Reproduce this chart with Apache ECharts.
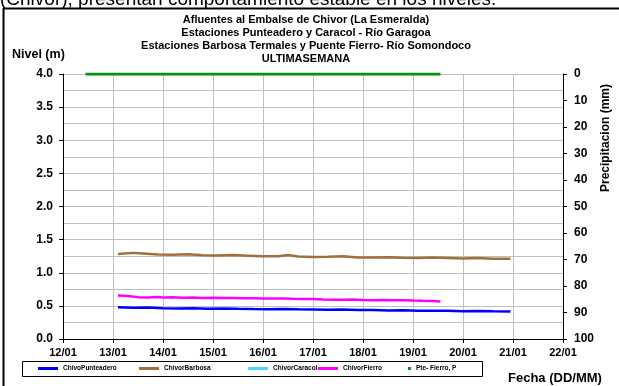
<!DOCTYPE html>
<html>
<head>
<meta charset="utf-8">
<script src="https://cdn.jsdelivr.net/npm/echarts@6/dist/echarts.min.js"></script>
<style>
html,body{margin:0;padding:0;background:#fff;}
#c{width:619px;height:386px;}
</style>
</head>
<body>
<div id="c"></div>
<script>
// ---- data (days of January) ----
const xTicks = [12, 13, 14, 15, 16, 17, 18, 19, 20, 21, 22];

const punteaderoT = [13.1,13.4,13.7,14.0,14.3,14.6,14.9,15.2,15.5,15.8,16.1,16.4,16.7,17.0,17.3,17.6,17.9,18.2,18.5,18.8,19.1,19.4,19.7,20.0,20.3,20.6,20.95];
const punteaderoV = [0.478,0.472,0.474,0.466,0.462,0.464,0.458,0.460,0.455,0.452,0.450,0.452,0.448,0.446,0.440,0.444,0.438,0.436,0.432,0.434,0.428,0.425,0.426,0.420,0.423,0.418,0.414];

const barbosaT = [13.1,13.4,13.6,13.9,14.2,14.5,14.8,15.1,15.4,15.7,16.0,16.3,16.5,16.7,17.0,17.3,17.6,17.9,18.2,18.5,18.8,19.1,19.4,19.7,20.0,20.3,20.6,20.95];
const barbosaV = [1.282,1.300,1.290,1.275,1.272,1.278,1.266,1.262,1.268,1.258,1.248,1.250,1.268,1.245,1.236,1.240,1.248,1.232,1.230,1.235,1.226,1.222,1.230,1.222,1.214,1.224,1.213,1.212];

const caracolT = [];
const caracolV = [];

const fierroT = [13.1,13.3,13.5,13.7,13.9,14.0,14.2,14.4,14.6,14.8,15.0,15.2,15.4,15.6,15.8,16.0,16.2,16.4,16.6,16.8,17.0,17.2,17.4,17.6,17.8,18.0,18.2,18.4,18.6,18.8,19.0,19.2,19.4,19.55];
const fierroV = [0.655,0.648,0.632,0.628,0.634,0.628,0.630,0.624,0.626,0.620,0.622,0.618,0.620,0.615,0.616,0.612,0.610,0.612,0.606,0.604,0.603,0.598,0.594,0.592,0.595,0.588,0.586,0.588,0.584,0.585,0.580,0.577,0.575,0.567];

const precipT = [12.45,13.0,13.7,14.0,15.0,16.0,17.0,18.0,19.0,19.55];
const precipV = [0,0,0,0,0,0,0,0,0,0];

const titleLines = [
  'Afluentes al Embalse de Chivor (La Esmeralda)',
  'Estaciones Punteadero y Caracol - Río Garagoa',
  'Estaciones Barbosa Termales y Puente Fierro- Río Somondoco',
  'ULTIMASEMANA'
];
const seriesNames = ['ChivoPunteadero','ChivorBarbosa','ChivorCaracol','ChivorFierro','Pte- Fierro, P'];

function zip(t, v){ return t.map((x,i)=>[x, v[i]]); }

const FONT = 'Liberation Sans, Arial, sans-serif';
const chart = echarts.init(document.getElementById('c'), null, {renderer:'canvas'});

const legendBase = {
  orient:'horizontal', top: 365, padding: 0, itemGap: 0,
  itemWidth: 20, itemHeight: 3, icon: 'rect', selectedMode: false,
  textStyle: {fontFamily: FONT, fontSize: 6.5, fontWeight: 'bold', color: '#000'}
};
const legendLefts = [38, 139, 248, 318, 408];

const option = {
  backgroundColor: '#fff',
  animation: false,
  title: {
    text: titleLines.join('\n'),
    left: 301, top: 8, textAlign: 'center',
    textStyle: {fontFamily: FONT, fontSize: 11, fontWeight: 'bold', color: '#000', lineHeight: 13}
  },
  legend: seriesNames.map((n,i)=>Object.assign({}, legendBase, {
    data: [n], left: legendLefts[i],
    itemWidth: i === 4 ? 3 : 20, itemHeight: 3
  })),
  grid: {left: 63, right: 56, top: 74, bottom: 47},
  xAxis: {
    type: 'value', min: 12, max: 22, interval: 1,
    axisLine: {show: true, lineStyle: {color: '#000', width: 1}},
    axisTick: {show: true, length: 4, lineStyle: {color: '#000'}},
    axisLabel: {
      margin: 8, fontFamily: FONT, fontSize: 11, fontWeight: 'bold', color: '#000',
      formatter: v => String(v).padStart(2,'0') + '/01'
    },
    splitLine: {show: true, lineStyle: {color: '#c0c0c0', width: 1}}
  },
  yAxis: [
    {
      type: 'value', min: 0, max: 4, interval: 0.5, position: 'left',
      axisLine: {show: true, lineStyle: {color: '#000', width: 1}},
      axisTick: {show: true, length: 4, lineStyle: {color: '#000'}},
      axisLabel: {margin: 10, fontFamily: FONT, fontSize: 12, fontWeight: 'bold', color: '#000',
        formatter: v => v.toFixed(1)},
      splitLine: {show: true, lineStyle: {color: '#c0c0c0', width: 1}},
      minorTick: {show: false, splitNumber: 2},
      minorSplitLine: {show: true, lineStyle: {color: '#c0c0c0', width: 1}}
    },
    {
      type: 'value', min: 0, max: 100, interval: 10, position: 'right', inverse: true,
      axisLine: {show: true, lineStyle: {color: '#000', width: 1}},
      axisTick: {show: true, length: 4, lineStyle: {color: '#000'}},
      axisLabel: {margin: 11, fontFamily: FONT, fontSize: 12, fontWeight: 'bold', color: '#000'},
      splitLine: {show: false}
    }
  ],
  series: [
    {name: seriesNames[0], type: 'line', yAxisIndex: 0, data: zip(punteaderoT, punteaderoV),
      showSymbol: false, color: '#0000ff', lineStyle: {width: 2.5, color: '#0000ff'}},
    {name: seriesNames[1], type: 'line', yAxisIndex: 0, data: zip(barbosaT, barbosaV),
      showSymbol: false, color: '#a0703c', lineStyle: {width: 2.5, color: '#a0703c'}},
    {name: seriesNames[2], type: 'line', yAxisIndex: 0, data: zip(caracolT, caracolV),
      showSymbol: false, color: '#4fd2ff', lineStyle: {width: 2.5, color: '#4fd2ff'}},
    {name: seriesNames[3], type: 'line', yAxisIndex: 0, data: zip(fierroT, fierroV),
      showSymbol: false, color: '#ff00ff', lineStyle: {width: 2.5, color: '#ff00ff'}},
    {name: seriesNames[4], type: 'line', yAxisIndex: 1, data: zip(precipT, precipV),
      showSymbol: false, color: '#0a8f0a', lineStyle: {width: 3, color: '#0a8f0a'}}
  ],
  graphic: [
    {type: 'text', left: 0, top: -10, style: {text: '(Chivor), presentan comportamiento estable en los niveles.',
      font: '19px ' + FONT, fill: '#000'}},
    {type: 'line', shape: {x1: 3, y1: 8.5, x2: 619, y2: 8.5}, style: {stroke: '#000', lineWidth: 2}},
    {type: 'line', shape: {x1: 3.5, y1: 8, x2: 3.5, y2: 386}, style: {stroke: '#000', lineWidth: 2}},
    {type: 'text', left: 12, top: 48, style: {text: 'Nivel (m)', font: 'bold 12.5px ' + FONT, fill: '#000'}},
    {type: 'text', left: 508, top: 372, style: {text: 'Fecha (DD/MM)', font: 'bold 13px ' + FONT, fill: '#000'}},
    {type: 'text', x: 600, y: 192, rotation: Math.PI/2,
      style: {text: 'Precipitacion (mm)', font: 'bold 12px ' + FONT, fill: '#000', textAlign: 'left', textVerticalAlign: 'top'}},
    {type: 'rect', shape: {x: 22.5, y: 361.5, width: 460, height: 15},
      style: {fill: 'none', stroke: '#000', lineWidth: 1}, z: -1}
  ]
};
chart.setOption(option);
</script>
</body>
</html>
